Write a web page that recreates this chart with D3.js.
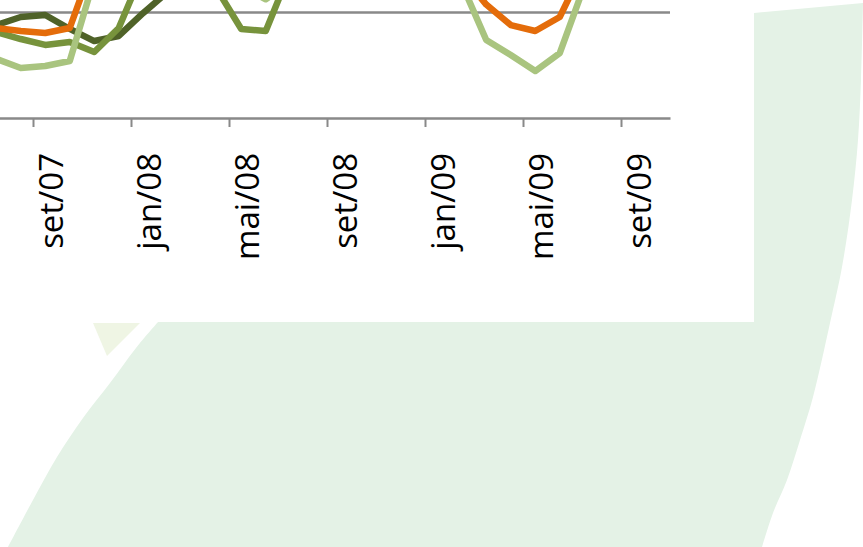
<!DOCTYPE html>
<html>
<head>
<meta charset="utf-8">
<script src="https://cdn.jsdelivr.net/npm/d3@7/dist/d3.min.js"></script>
<style>
  html, body { margin: 0; padding: 0; background: #ffffff; }
  svg { display: block; }
</style>
</head>
<body>
<svg id="chart" width="863" height="547"></svg>
<script>
// Monthly categories, jun/07 .. out/09
const months = ["jun/07","jul/07","ago/07","set/07","out/07","nov/07","dez/07",
  "jan/08","fev/08","mar/08","abr/08","mai/08","jun/08","jul/08","ago/08","set/08",
  "out/08","nov/08","dez/08","jan/09","fev/09","mar/09","abr/09","mai/09","jun/09",
  "jul/09","ago/09","set/09","out/09"];

// Axis labels, one every four months
const tickLabels = ["set/07","jan/08","mai/08","set/08","jan/09","mai/09","set/09"];

// Series values (one per month)
const seriesDark = [8.9, 8.77, 9.53, 9.72, 8.40, 7.26, 7.74, 9.91,
  11.9, 12.6, 13.2, 13.8, 14.5, 14.9, 15.3, 15.0, 14.6, 14.1, 13.7, 13.2,
  12.9, 12.6, 12.4, 12.3, 12.2, 12.4, 12.6, 12.8, 13.0];
const seriesMid = [8.3, 8.11, 7.45, 6.89, 7.17, 6.23, 8.49, 13.96,
  14.6, 13.8, 12.17, 8.40, 8.21, 13.87, 14.5, 15.2, 15.6, 15.1, 14.6, 14.2,
  13.8, 13.4, 13.0, 12.7, 12.5, 12.4, 12.6, 12.9, 13.1];
const seriesOrange = [8.6, 8.49, 8.21, 8.02, 8.49, 14.9, 15.5, 16.0,
  16.4, 16.2, 16.8, 17.1, 17.4, 17.0, 16.5, 16.2, 15.6, 15.0, 14.6, 14.1,
  13.5, 10.7, 8.77, 8.21, 9.53, 14.3, 14.8, 15.1, 15.3];
const seriesLight = [5.7, 5.57, 4.72, 4.91, 5.38, 13.1, 14.0, 14.6,
  14.2, 13.6, 12.9, 12.4, 11.2, 12.8, 13.6, 14.3, 14.8, 14.5, 14.0, 13.4,
  12.64, 7.36, 5.94, 4.43, 6.13, 12.45, 13.1, 13.5, 13.8];

const gridValues = [10];

const series = [
  { values: seriesDark,   color: "#4f6228" },
  { values: seriesMid,    color: "#77933c" },
  { values: seriesOrange, color: "#e46c0a" },
  { values: seriesLight,  color: "#a9c47f" }
];

const svg = d3.select("#chart");

// Decorative backdrop: pale green sheet behind the chart panel
const smooth = d3.line().curve(d3.curveCatmullRom.alpha(0.5));
const rightEdge = [[863,3],[861,80],[858,140],[852,200],[842,267],[830,323],
  [813,397],[800,440],[787,480],[773,513],[762,547]];
const leftEdge = [[8,547],[33,500],[57,457],[83,418],[110,383],[136,348],[158,322]];
svg.append("path")
  .attr("d", "M754,13 L" + smooth(rightEdge).slice(1) + " L" + smooth(leftEdge).slice(1) + " L754,322 Z")
  .attr("fill", "#e4f2e6");
svg.append("path")
  .attr("d", "M93,323 L140,323 L107,356 Z")
  .attr("fill", "#eff5e4");

// Chart panel
svg.append("rect").attr("x", 0).attr("y", 0).attr("width", 754).attr("height", 322)
  .attr("fill", "#ffffff");

// Scales: month index -> x (ticks sit on month boundaries), value -> y
const x = d3.scaleLinear().domain([-1.5, 27.5]).range([-40.5, 670]);
const y = d3.scaleLinear().domain([0, 10]).range([118, 12]);
const idx = i => i - 1; // first category (jun/07) has index -1

// Horizontal gridlines
const grid = svg.append("g")
  .attr("transform", `translate(${x(-1.5)},0)`)
  .call(d3.axisLeft(y).tickValues(gridValues).tickSize(-(x(27.5) - x(-1.5))).tickFormat(""));
grid.select(".domain").remove();
grid.selectAll(".tick line").attr("stroke", "#898989").attr("stroke-width", 2.5);

// Category axis
const tickPositions = tickLabels.map((_, k) => 1.5 + 4 * k);
const xAxis = svg.append("g")
  .attr("transform", `translate(0,${y(0)})`)
  .call(d3.axisBottom(x).tickValues(tickPositions).tickSize(9).tickSizeOuter(0)
    .tickFormat((d, k) => tickLabels[k]));
xAxis.select(".domain").attr("stroke", "#898989").attr("stroke-width", 2.5);
xAxis.selectAll(".tick line").attr("stroke", "#898989").attr("stroke-width", 2);
xAxis.selectAll(".tick text")
  .attr("transform", "rotate(-90)")
  .attr("text-anchor", "end")
  .attr("x", -35)
  .attr("y", 29)
  .attr("dy", 0)
  .attr("fill", "#000")
  .style("font-family", "'Open Sans', sans-serif")
  .style("font-size", "33px");

// Lines
const line = d3.line()
  .x((v, i) => x(idx(i)))
  .y(v => y(v));

svg.append("g").selectAll("path")
  .data(series)
  .join("path")
  .attr("d", s => line(s.values))
  .attr("fill", "none")
  .attr("stroke", s => s.color)
  .attr("stroke-width", 6.5)
  .attr("stroke-linejoin", "round");
</script>
</body>
</html>
